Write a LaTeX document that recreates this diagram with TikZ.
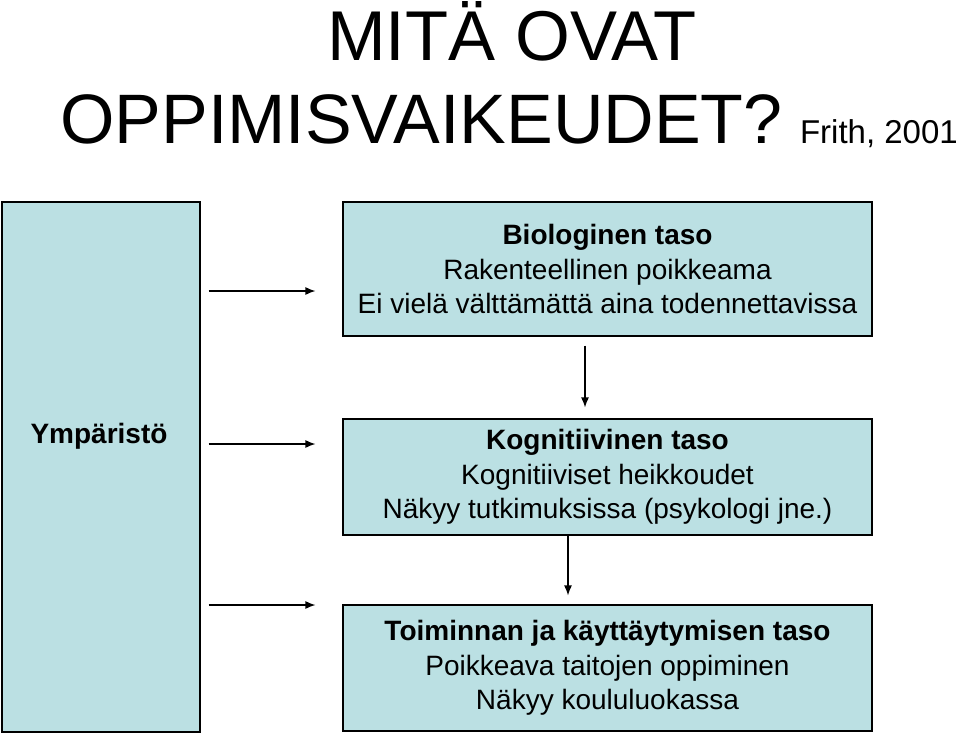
\documentclass[tikz,border=0pt]{standalone}
\usepackage{fontspec}
\setmainfont{Liberation Sans}
\usetikzlibrary{arrows,arrows.meta}
\definecolor{boxblue}{RGB}{187,224,227}
\tikzset{
  taso/.style={draw=black,fill=boxblue,line width=1.2pt,inner sep=0pt,align=center,font=\fontsize{28}{34.5}\selectfont},
  nuoli/.style={-{Latex[length=10pt,width=8pt]},line width=1.2pt},
}

\begin{document}
\begin{tikzpicture}[x=1pt,y=-1pt]
\useasboundingbox (0,0) rectangle (960,736);
\node (otsikko1) at (512,60) [anchor=base,inner sep=0pt,font=\fontsize{70.5}{70}\selectfont] {MITÄ OVAT};
\node (otsikko2) at (60,143) [anchor=base west,inner sep=0pt,font=\fontsize{70}{70}\selectfont] {OPPIMISVAIKEUDET?};
\node (lahde) at (958,143) [anchor=base east,inner sep=0pt,font=\fontsize{33}{33}\selectfont] {Frith, 2001};
\node (ymparisto) at (101,467) [taso,minimum width=198pt,minimum height=530pt] {};
\node (ymp) at (99,443) [anchor=base,inner sep=0pt,font=\fontsize{28}{28}\selectfont\bfseries] {Ympäristö};
\node (bio) at (607.5,269) [taso,minimum width=529pt,minimum height=134pt] {\textbf{Biologinen taso}\\Rakenteellinen poikkeama\\Ei vielä välttämättä aina todennettavissa};
\node (kog) at (607.5,477) [taso,minimum width=529pt,minimum height=116pt] {\textbf{Kognitiivinen taso}\\Kognitiiviset heikkoudet\\Näkyy tutkimuksissa (psykologi jne.)};
\node (toim) at (607.5,668) [taso,minimum width=529pt,minimum height=126pt] {\textbf{Toiminnan ja käyttäytymisen taso}\\Poikkeava taitojen oppiminen\\Näkyy koululuokassa};
\draw [nuoli,shorten <=8pt,shorten >=27pt] ([yshift=176pt]ymparisto.east) -- ([yshift=-22pt]bio.west);
\draw [nuoli,shorten <=8pt,shorten >=27pt] ([yshift=23pt]ymparisto.east) -- ([yshift=33pt]kog.west);
\draw [nuoli,shorten <=8pt,shorten >=27pt] ([yshift=-138pt]ymparisto.east) -- ([yshift=63pt]toim.west);
\draw [nuoli,shorten <=9pt,shorten >=11pt] ([xshift=-22.5pt]bio.south) -- ([xshift=-22.5pt]kog.north);
\draw [nuoli,shorten >=9pt] ([xshift=-39.5pt]kog.south) -- ([xshift=-39.5pt]toim.north);
\end{tikzpicture}
\end{document}
